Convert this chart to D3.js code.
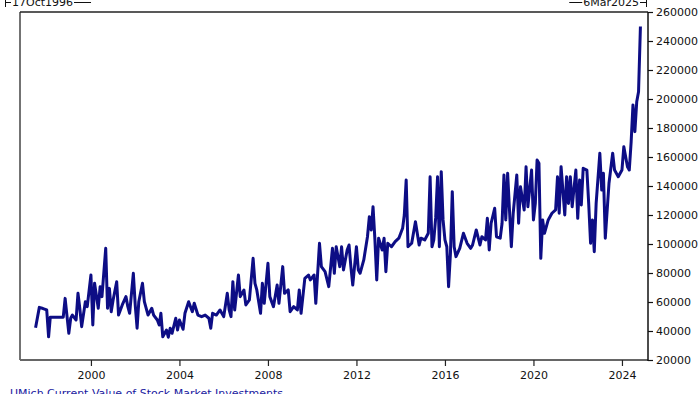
<!DOCTYPE html>
<html>
<head>
<meta charset="utf-8">
<script src="https://cdn.jsdelivr.net/npm/d3@7"></script>
<style>
  body { margin: 0; background: #fff; }
  svg { display: block; }
</style>
</head>
<body>
<svg id="chart" width="700" height="394"></svg>
<script>
const startLabel = "17Oct1996", endLabel = "6Mar2025";
const seriesName = "UMich Current Value of Stock Market Investments";
const yTicks = [20000, 40000, 60000, 80000, 100000, 120000, 140000, 160000, 180000, 200000, 220000, 240000, 260000];
const xTickYears = [2000, 2004, 2008, 2012, 2016, 2020, 2024];

const dates = [
  "1997-07", "1997-09", "1997-11", "1998-01", "1998-02", "1998-03", "1998-10", "1998-11", "1999-01", "1999-02",
  "1999-03", "1999-05", "1999-06", "1999-07", "1999-08", "1999-10", "1999-11", "2000-01", "2000-02", "2000-03",
  "2000-05", "2000-06", "2000-07", "2000-09", "2000-10", "2000-11", "2000-12", "2001-01", "2001-03", "2001-04",
  "2001-06", "2001-08", "2001-09", "2001-10", "2001-12", "2002-01", "2002-02", "2002-03", "2002-05", "2002-06",
  "2002-08", "2002-10", "2002-11", "2003-01", "2003-02", "2003-03", "2003-04", "2003-06", "2003-07", "2003-08",
  "2003-09", "2003-11", "2003-12", "2004-01", "2004-03", "2004-04", "2004-06", "2004-08", "2004-09", "2004-11",
  "2005-01", "2005-03", "2005-05", "2005-06", "2005-07", "2005-09", "2005-11", "2006-01", "2006-03", "2006-04",
  "2006-05", "2006-06", "2006-07", "2006-09", "2006-10", "2006-12", "2007-01", "2007-03", "2007-05", "2007-06",
  "2007-07", "2007-09", "2007-10", "2007-11", "2008-01", "2008-02", "2008-04", "2008-06", "2008-07", "2008-09",
  "2008-10", "2008-12", "2009-01", "2009-03", "2009-05", "2009-06", "2009-07", "2009-09", "2009-11", "2009-12",
  "2010-02", "2010-03", "2010-05", "2010-06", "2010-08", "2010-10", "2010-12", "2011-01", "2011-02", "2011-04",
  "2011-05", "2011-06", "2011-08", "2011-09", "2011-10", "2011-11", "2012-01", "2012-02", "2012-03", "2012-05",
  "2012-07", "2012-08", "2012-09", "2012-10", "2012-11", "2012-12", "2013-01", "2013-03", "2013-04", "2013-05",
  "2013-06", "2013-08", "2013-10", "2013-12", "2014-02", "2014-03", "2014-04", "2014-05", "2014-07", "2014-09",
  "2014-11", "2014-12", "2015-02", "2015-04", "2015-05", "2015-06", "2015-07", "2015-08", "2015-09", "2015-10",
  "2015-11", "2015-12", "2016-01", "2016-02", "2016-03", "2016-04", "2016-05", "2016-06", "2016-07", "2016-09",
  "2016-11", "2017-01", "2017-03", "2017-04", "2017-06", "2017-08", "2017-09", "2017-11", "2017-12", "2018-01",
  "2018-02", "2018-04", "2018-05", "2018-07", "2018-08", "2018-09", "2018-10", "2018-11", "2019-01", "2019-02",
  "2019-04", "2019-05", "2019-06", "2019-08", "2019-09", "2019-10", "2019-12", "2020-01", "2020-02", "2020-03",
  "2020-04", "2020-05", "2020-06", "2020-07", "2020-09", "2020-11", "2021-01", "2021-02", "2021-03", "2021-04",
  "2021-06", "2021-07", "2021-08", "2021-09", "2021-10", "2021-12", "2022-01", "2022-02", "2022-03", "2022-04",
  "2022-06", "2022-07", "2022-08", "2022-09", "2022-10", "2022-11", "2023-01", "2023-02", "2023-03", "2023-04",
  "2023-06", "2023-08", "2023-09", "2023-11", "2024-01", "2024-02", "2024-04", "2024-05", "2024-06", "2024-07",
  "2024-08", "2024-09", "2024-10", "2024-11"
];

const values = [
  42300, 56300, 55500, 54500, 36000, 49500, 49500, 62500, 38400, 48800,
  51000, 47600, 66000, 55700, 43000, 60200, 56800, 78600, 44100, 72900,
  55700, 70600, 63700, 97000, 55700, 69400, 53300, 61400, 74000, 51000,
  58000, 63700, 56800, 52200, 79800, 58000, 41900, 60200, 72900, 60200,
  51000, 55700, 51000, 47600, 44100, 52200, 36000, 40700, 35700, 41900,
  38400, 48800, 40700, 47600, 41200, 52200, 60200, 53300, 59100, 51000,
  49900, 51000, 48800, 41900, 52200, 51000, 54500, 49900, 66000, 54500,
  49900, 74000, 54500, 78600, 63700, 68300, 58000, 61400, 90100, 72900,
  68300, 52200, 72900, 59100, 86700, 63700, 56800, 71700, 59100, 84400,
  66000, 68300, 53300, 56800, 54500, 68300, 52200, 76300, 78600, 75200,
  78600, 59100, 100500, 84400, 80900, 70600, 97000, 79800, 98100, 84400,
  98100, 82100, 95900, 99300, 84400, 71700, 98100, 82100, 79800, 89000,
  105000, 118800, 109700, 125700, 102800, 75200, 104000, 95900, 104000, 80900,
  100500, 98100, 101600, 104000, 110800, 120000, 144100, 98100, 100500, 115400,
  99300, 104000, 102800, 107400, 146400, 98100, 102800, 118000, 146400, 98100,
  149900, 116600, 102800, 98100, 70600, 93600, 136100, 98100, 91300, 97000,
  107400, 100500, 97000, 99300, 109700, 99300, 105000, 102800, 117700, 95900,
  114300, 124600, 105000, 104000, 114300, 147600, 116600, 148800, 98100, 121200,
  147600, 114300, 139500, 123500, 153300, 125700, 151000, 116600, 128000, 157900,
  155700, 90100, 116600, 107400, 116600, 121200, 123500, 146400, 121200, 153300,
  120000, 146400, 128000, 146400, 125700, 151000, 117700, 144100, 126900, 152200,
  151000, 128000, 100500, 116600, 94700, 128000, 162600, 137200, 148800, 104000,
  141900, 162600, 151000, 146400, 151000, 167100, 153300, 151000, 170600, 195900,
  177500, 198100, 205000, 250000
];

const font = "'DejaVu Sans', Verdana, sans-serif";
const parseMonth = d3.timeParse("%Y-%m");
const data = dates.map((d, i) => ({date: parseMonth(d), value: values[i]}));

const svg = d3.select("#chart");
const frame = {left: 20, right: 648, top: 12, bottom: 360};

const x = d3.scaleTime()
    .domain([new Date(1996, 9, 17), new Date(2025, 2, 6)])
    .range([frame.left, frame.right]);
const y = d3.scaleLinear()
    .domain([20000, 260000])
    .range([frame.bottom, frame.top]);

// frame
svg.append("line").attr("x1", frame.left).attr("x2", frame.left).attr("y1", frame.top).attr("y2", frame.bottom)
    .attr("stroke", "#444").attr("stroke-width", 1.5);
svg.append("line").attr("x1", frame.left).attr("x2", frame.right).attr("y1", frame.top).attr("y2", frame.top)
    .attr("stroke", "#222").attr("stroke-width", 1.5);
svg.append("line").attr("x1", frame.left).attr("x2", frame.right).attr("y1", frame.bottom).attr("y2", frame.bottom)
    .attr("stroke", "#666").attr("stroke-width", 2);
svg.append("line").attr("x1", frame.right).attr("x2", frame.right).attr("y1", frame.top).attr("y2", frame.bottom + 1)
    .attr("stroke", "#111").attr("stroke-width", 1.5);

// right axis
const yAxis = svg.append("g")
    .attr("transform", `translate(${frame.right},0)`)
    .call(d3.axisRight(y).tickValues(yTicks).tickSize(5).tickPadding(3).tickFormat(d3.format("d")));
yAxis.select(".domain").remove();
yAxis.selectAll("line").attr("stroke", "#111").attr("stroke-width", 1.2);
yAxis.selectAll("text").attr("fill", "#111").style("font-size", "11px").style("font-family", font);

// bottom axis
const xAxis = svg.append("g")
    .attr("transform", `translate(0,${frame.bottom})`)
    .call(d3.axisBottom(x).tickValues(xTickYears.map((yr) => new Date(yr, 0, 1)))
        .tickSize(6).tickPadding(5).tickFormat(d3.timeFormat("%Y")));
xAxis.select(".domain").remove();
xAxis.selectAll("line").attr("stroke", "#222").attr("stroke-width", 1.2);
xAxis.selectAll("text").attr("fill", "#111").style("font-size", "11px").style("font-family", font);

// series
const line = d3.line()
    .x((d) => x(d.date))
    .y((d) => y(d.value));

svg.append("path")
    .datum(data)
    .attr("fill", "none")
    .attr("stroke", "#0d0d85")
    .attr("stroke-width", 3)
    .attr("stroke-linejoin", "round")
    .attr("d", line);

// date range labels on top (cut by the top edge, as in the source)
const rangeG = svg.append("g").attr("stroke", "#111").attr("stroke-width", 1);
rangeG.append("line").attr("x1", 5.5).attr("x2", 5.5).attr("y1", -3).attr("y2", 7);
rangeG.append("line").attr("x1", 5.5).attr("x2", 11).attr("y1", 2.5).attr("y2", 2.5);
const startText = svg.append("text")
    .attr("x", 12).attr("y", 6)
    .style("font-size", "11px").style("font-family", font).attr("fill", "#111")
    .text(startLabel);
const sw = startText.node().getComputedTextLength();
rangeG.append("line").attr("x1", 13 + sw).attr("x2", 30 + sw).attr("y1", 2.5).attr("y2", 2.5);

const endText = svg.append("text")
    .attr("x", 639).attr("y", 6).attr("text-anchor", "end")
    .style("font-size", "11px").style("font-family", font).attr("fill", "#111")
    .text(endLabel);
const ew = endText.node().getComputedTextLength();
rangeG.append("line").attr("x1", 640).attr("x2", 646.5).attr("y1", 2.5).attr("y2", 2.5);
rangeG.append("line").attr("x1", 646.5).attr("x2", 646.5).attr("y1", -3).attr("y2", 7);
rangeG.append("line").attr("x1", 638 - ew - 13).attr("x2", 638 - ew).attr("y1", 2.5).attr("y2", 2.5);

// series name
svg.append("text")
    .attr("x", 10).attr("y", 397)
    .style("font-size", "11px").style("font-family", font).attr("fill", "#2020a0")
    .text(seriesName);
</script>
</body>
</html>
